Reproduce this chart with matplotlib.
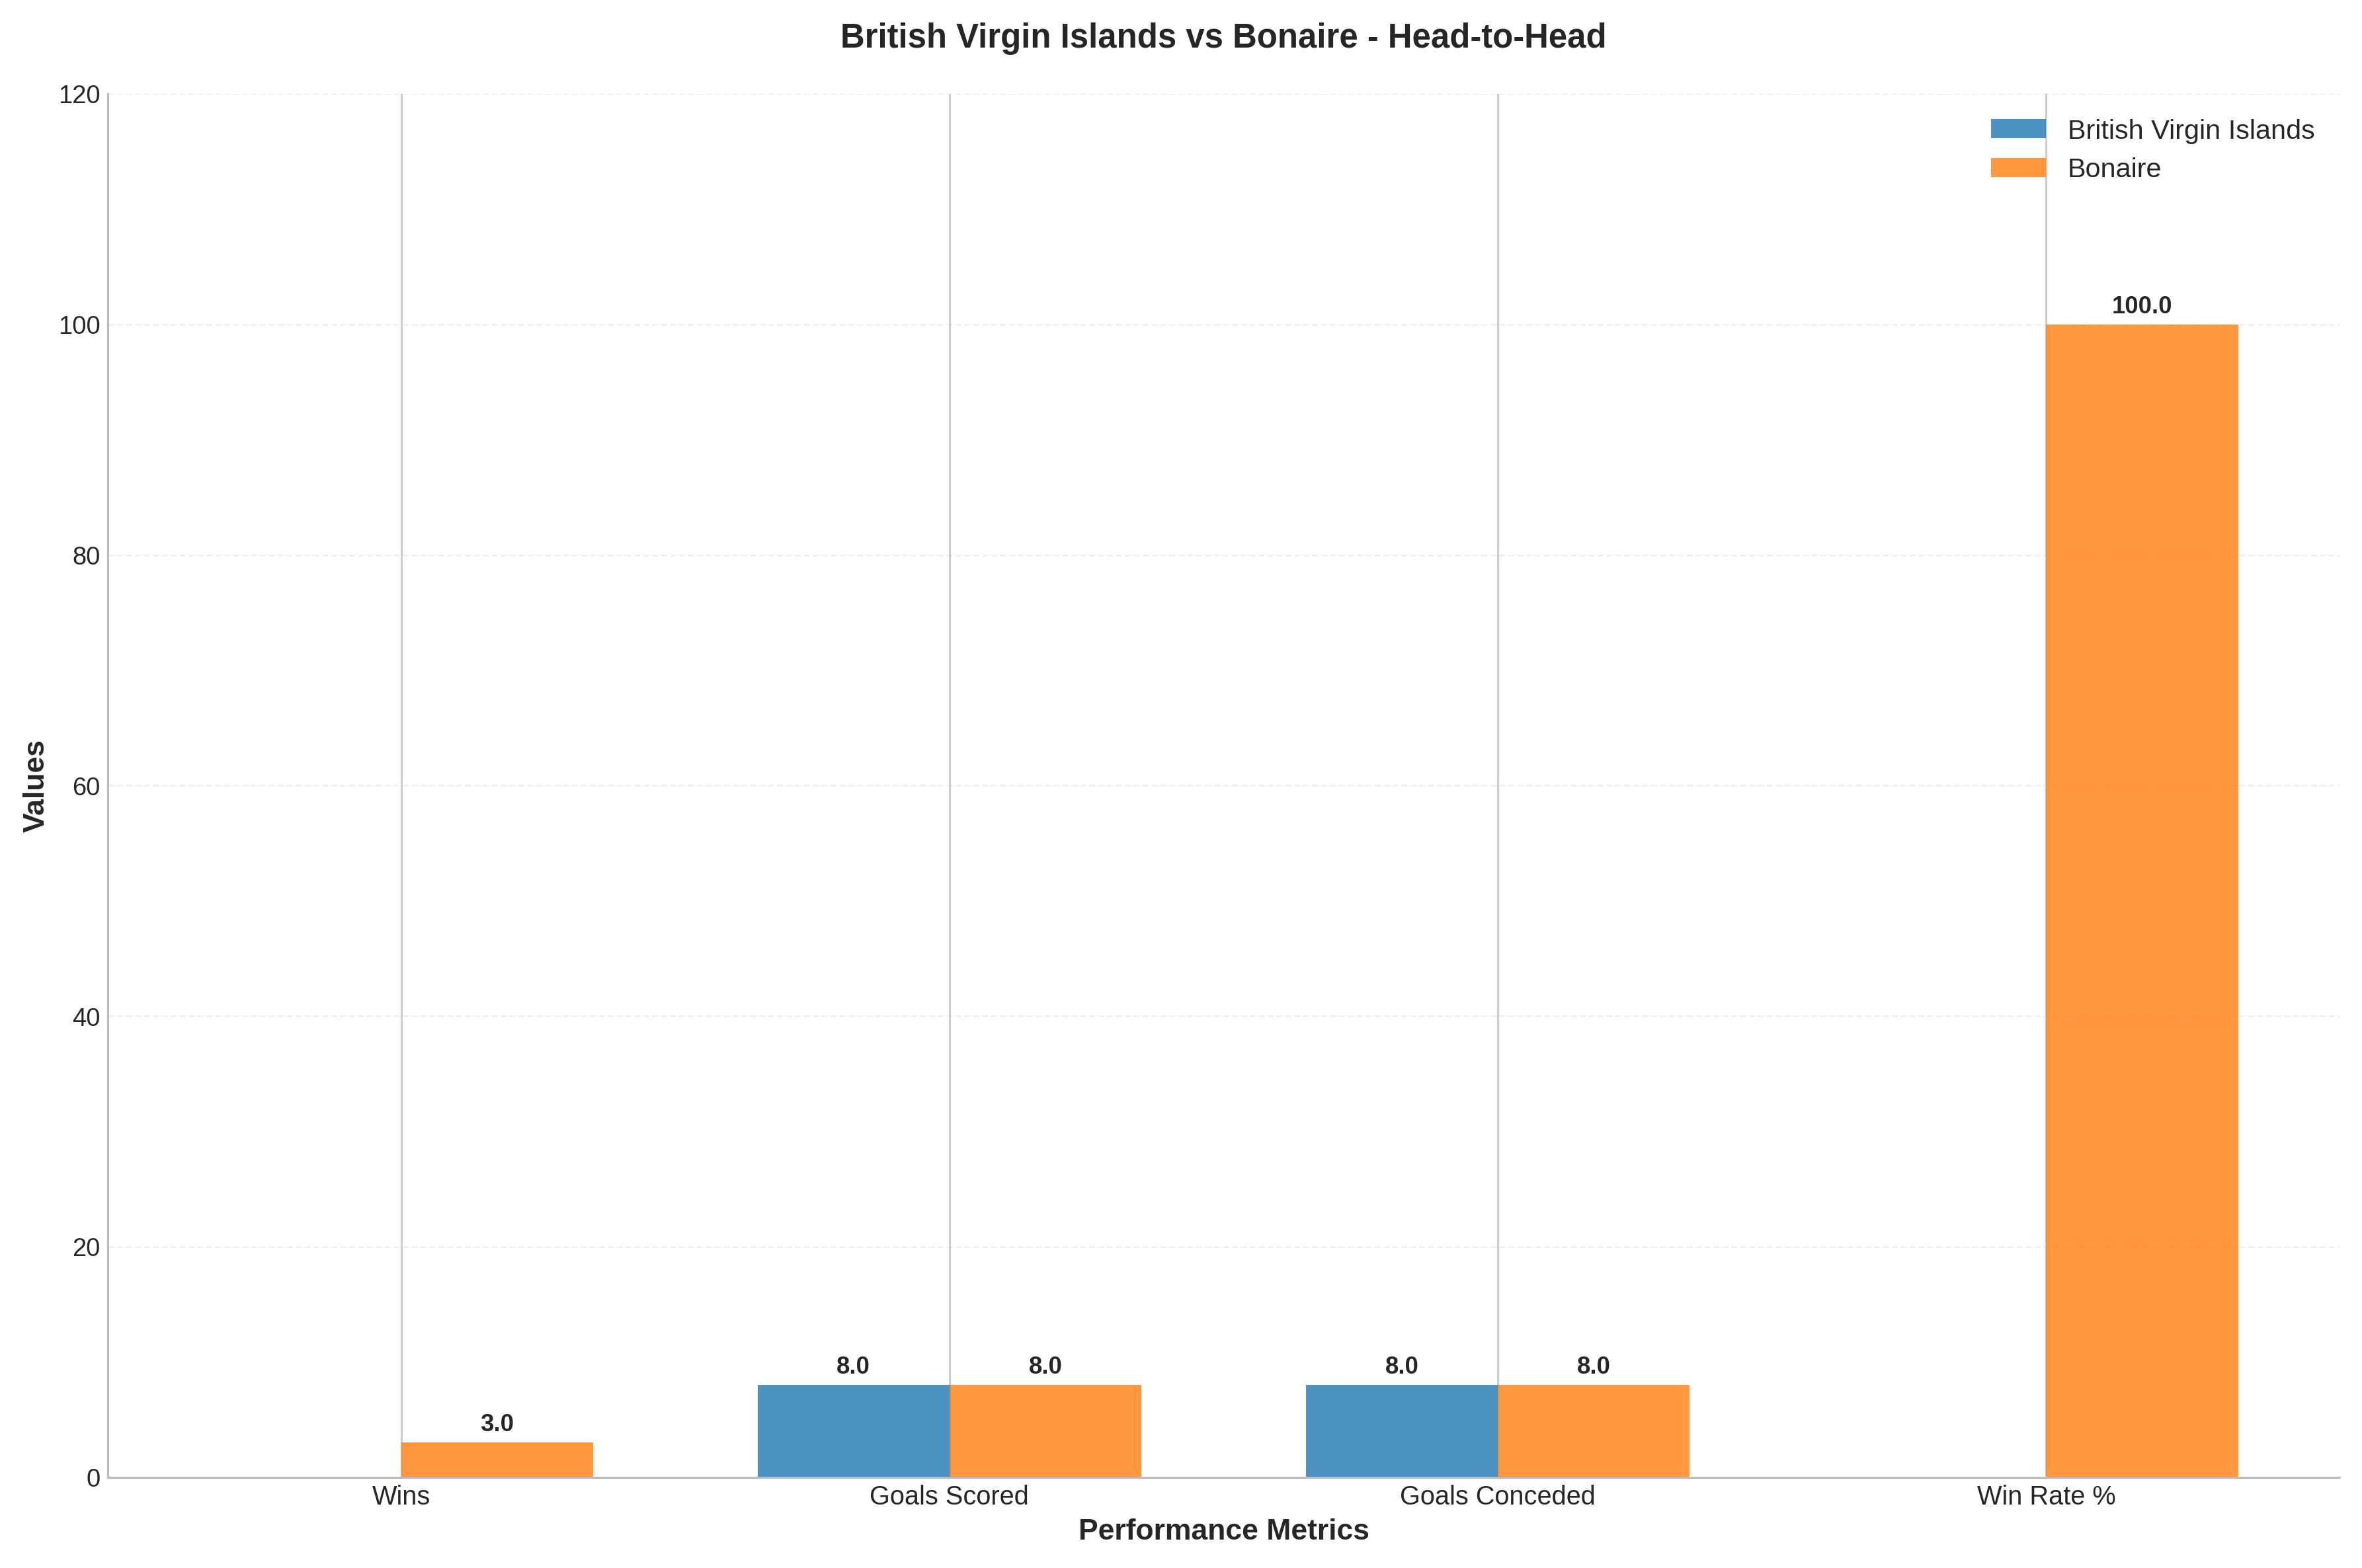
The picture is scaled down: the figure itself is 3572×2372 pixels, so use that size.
import numpy as np
import matplotlib.pyplot as plt

plt.style.use('seaborn-v0_8-whitegrid')
plt.rcParams['font.family'] = ['Arial', 'Liberation Sans', 'DejaVu Sans']

metrics = ['Wins', 'Goals Scored', 'Goals Conceded', 'Win Rate %']
team1 = 'British Virgin Islands'
team2 = 'Bonaire'
team1_values = [0.0, 8.0, 8.0, 0.0]
team2_values = [3.0, 8.0, 8.0, 100.0]

fig, ax = plt.subplots(figsize=(15.6, 10.36), dpi=229)

x = np.arange(len(metrics))
width = 0.35
bars1 = ax.bar(x - width / 2, team1_values, width, label=team1, color='#1f77b4', alpha=0.8)
bars2 = ax.bar(x + width / 2, team2_values, width, label=team2, color='#ff7f0e', alpha=0.8)

for bars in (bars1, bars2):
    for b in bars:
        h = b.get_height()
        if h > 0:
            ax.annotate(f'{h:.1f}', xy=(b.get_x() + b.get_width() / 2, h),
                        xytext=(0, 3), textcoords='offset points',
                        ha='center', va='bottom', fontsize=11.5, fontweight='bold')

ax.set_xlabel('Performance Metrics', fontsize=14, fontweight='bold')
ax.set_ylabel('Values', fontsize=14, fontweight='bold')
ax.set_title('British Virgin Islands vs Bonaire - Head-to-Head', fontsize=16, fontweight='bold', pad=22)
ax.set_xticks(x)
ax.set_xticklabels(metrics, fontsize=12.5)
ax.tick_params(axis='y', labelsize=12)
ax.set_ylim(0, 120)

ax.grid(axis='x', color='#cccccc', linestyle='-', linewidth=1)
ax.grid(axis='y', linestyle='--', alpha=0.3)
ax.spines['top'].set_visible(False)
ax.spines['right'].set_visible(False)
for s in ('left', 'bottom'):
    ax.spines[s].set_color('#bbbbbb')
ax.legend(fontsize=13, loc='upper right')

plt.tight_layout()
plt.savefig('out.png', dpi=229)
